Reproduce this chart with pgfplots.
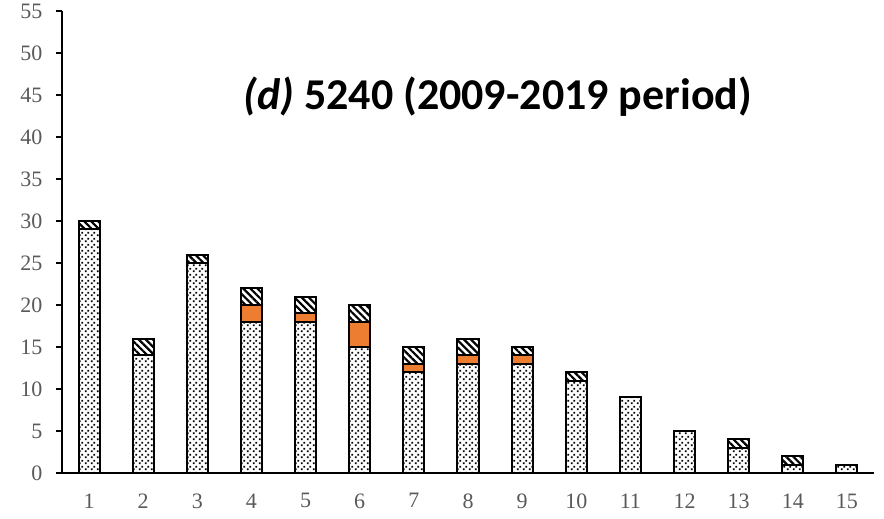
\documentclass[border=0pt]{standalone}
\usepackage{pgfplots}
\pgfplotsset{compat=1.18}
\usepackage{fontspec}
\setmainfont{Liberation Serif}
\newfontfamily\titlefont{Carlito}
\usetikzlibrary{patterns.meta}
\definecolor{ticktext}{HTML}{595959}
\definecolor{midorange}{HTML}{ED7D31}

% staggered dot fill for the base segment
\tikzdeclarepattern{
  name=finedots,
  type=uncolored,
  bottom left={(0pt,0pt)},
  top right={(6pt,6pt)},
  tile size={(6pt,6pt)},
  code={\fill (1pt,1pt) rectangle (3pt,3pt); \fill (4pt,4pt) rectangle (6pt,6pt);}
}

\pgfplotstableread{
x  base mid top
1  29   0   1
2  14   0   2
3  25   0   1
4  18   2   2
5  18   1   2
6  15   3   2
7  12   1   2
8  13   1   2
9  13   1   1
10 11   0   1
11  9   0   0
12  5   0   0
13  3   0   1
14  1   0   1
15  1   0   0
}\datatable

\begin{document}
\begin{tikzpicture}
\begin{axis}[
  scale only axis,
  width=812pt, height=462pt,
  xmin=0.5, xmax=15.5,
  ymin=0, ymax=55,
  ybar stacked,
  bar width=0.39,
  axis lines=left,
  axis line style={-, line width=1.2pt, black},
  xtick={1,...,15},
  ytick={0,5,...,55},
  tick align=outside,
  major tick length=6pt,
  x tick style={draw=none},
  y tick style={line width=1.2pt, black},
  tick label style={font=\fontsize{22}{26}\selectfont, text=ticktext},
  xticklabel style={yshift=-11pt},
  yticklabel style={xshift=-10pt},
  /pgf/number format/assume math mode=true,
  clip=false,
]
\addplot[draw=black, line width=2pt, preaction={fill=white}, pattern=finedots, pattern color=black] table[x=x, y=base] {\datatable};
\addplot[draw=black, line width=2pt, fill=midorange] table[x=x, y=mid] {\datatable};
\addplot[draw=black, line width=2pt, preaction={fill=white}, pattern={Lines[angle=-45, distance=5pt, line width=2.2pt]}, pattern color=black] table[x=x, y=top] {\datatable};
\node[font=\titlefont\bfseries\fontsize{44}{50}\selectfont] at (axis cs:8.55,44.8) {\textit{(d)} 5240 (2009-2019 period)};
\end{axis}
\path (current axis.south west) ++(-62pt,-46pt) rectangle ++(884pt,519pt);
\end{tikzpicture}
\end{document}
